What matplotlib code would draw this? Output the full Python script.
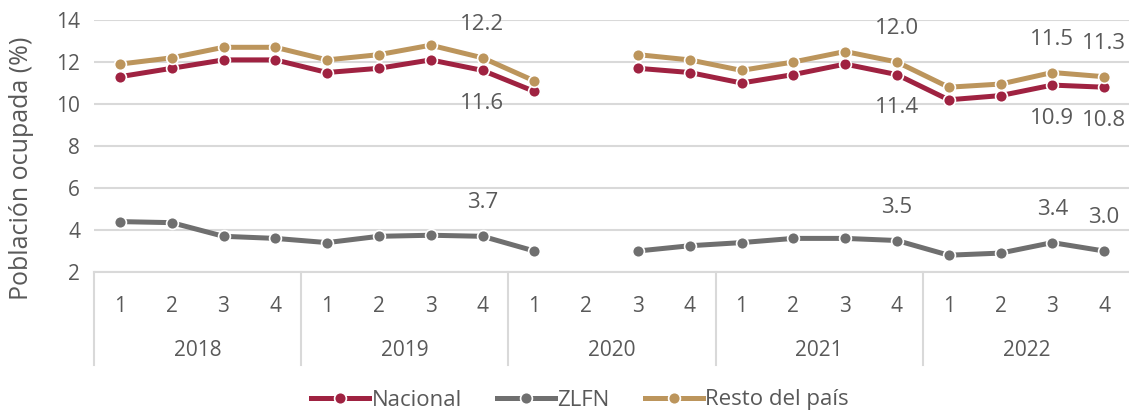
import numpy as np
import matplotlib as mpl
import matplotlib.pyplot as plt
from matplotlib.transforms import blended_transform_factory

mpl.rcParams["font.family"] = ["Open Sans", "DejaVu Sans"]

years = ["2018", "2019", "2020", "2021", "2022"]
quarters = ["1", "2", "3", "4"]

nan = np.nan
nacional = [11.3, 11.7, 12.1, 12.1, 11.5, 11.7, 12.1, 11.6,
            10.6, nan, 11.7, 11.5, 11.0, 11.4, 11.9, 11.4,
            10.2, 10.4, 10.9, 10.8]
zlfn = [4.4, 4.35, 3.7, 3.6, 3.4, 3.7, 3.75, 3.7,
        3.0, nan, 3.0, 3.25, 3.4, 3.6, 3.6, 3.5,
        2.8, 2.9, 3.4, 3.0]
resto = [11.9, 12.2, 12.7, 12.7, 12.1, 12.35, 12.8, 12.2,
         11.1, nan, 12.35, 12.1, 11.6, 12.0, 12.5, 12.0,
         10.8, 10.95, 11.5, 11.3]

labelled = [7, 15, 18, 19]

c_nac = "#9F2241"
c_zlfn = "#6F6F6F"
c_resto = "#BC955C"
txt = "#595959"
grid = "#D9D9D9"

W, H = 1129, 416
fig = plt.figure(figsize=(W / 100, H / 100), dpi=100)
ax = fig.add_axes([94 / W, 1 - 272 / H, (1130 - 94) / W, 252 / H])

x = np.arange(len(years) * len(quarters))
series = [("Nacional", nacional, c_nac),
          ("ZLFN", zlfn, c_zlfn),
          ("Resto del país", resto, c_resto)]
for name, vals, col in series:
    ax.plot(x, vals, color=col, lw=3.6, marker="o", ms=8.5,
            mfc=col, mec="white", mew=1.2, label=name, zorder=3)

for i in labelled:
    ax.annotate(f"{resto[i]:.1f}", (x[i], resto[i]), xytext=(0, 24),
                textcoords="offset points", ha="center", va="center",
                fontsize=16, color=txt)
    ax.annotate(f"{nacional[i]:.1f}", (x[i], nacional[i]), xytext=(0, -24),
                textcoords="offset points", ha="center", va="center",
                fontsize=16, color=txt)
    ax.annotate(f"{zlfn[i]:.1f}", (x[i], zlfn[i]), xytext=(0, 24),
                textcoords="offset points", ha="center", va="center",
                fontsize=16, color=txt)

ax.set_xlim(-0.5, len(x) - 0.5)
ax.set_ylim(2, 14)
ax.set_yticks(np.arange(2, 15, 2))
ax.tick_params(axis="y", length=0, labelsize=15, labelcolor=txt, pad=10)
ax.grid(axis="y", color=grid, lw=1.5)
ax.set_axisbelow(True)

ax.set_xticks(x)
ax.set_xticklabels(quarters * len(years))
ax.tick_params(axis="x", length=0, labelsize=15, labelcolor=txt, pad=17)

for s in ["top", "right", "left"]:
    ax.spines[s].set_visible(False)
ax.spines["bottom"].set_color(grid)
ax.spines["bottom"].set_linewidth(1.5)

# multi-level category axis
tr = blended_transform_factory(ax.transData, ax.transAxes)
for k in range(len(years) + 1):
    xb = k * 4 - 0.5
    ax.plot([xb, xb], [0, -0.37], transform=tr, color=grid, lw=1.5,
            clip_on=False)
for k, yr in enumerate(years):
    ax.text(k * 4 + 1.5, -0.31, yr, transform=tr, ha="center", va="center",
            fontsize=15, color=txt)

fig.text(22 / W, 1 - 168 / H, "Población ocupada (%)", rotation=90,
         ha="center", va="center", fontsize=18, color=txt)

fig.legend(loc="center", bbox_to_anchor=(580 / W, 1 - 400 / H), ncol=3,
           frameon=False, fontsize=16, labelcolor=txt, handlelength=2.6,
           columnspacing=1.6, handletextpad=0.1)

fig.savefig("out.png", dpi=100)
